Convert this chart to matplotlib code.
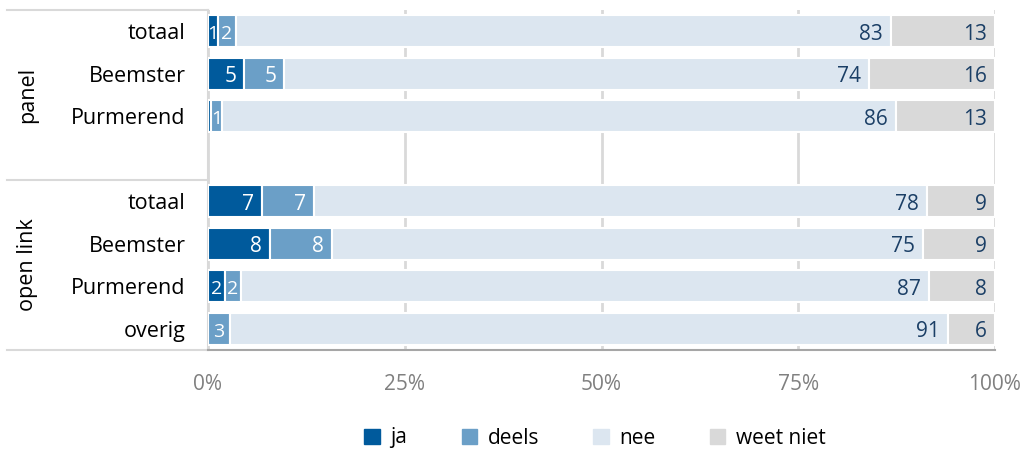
import matplotlib
matplotlib.use("Agg")
import matplotlib.pyplot as plt
from matplotlib.lines import Line2D
import numpy as np

plt.rcParams['font.family'] = ['Open Sans', 'DejaVu Sans']

# data
rows = ["totaal", "Beemster", "Purmerend", "totaal", "Beemster", "Purmerend", "overig"]
groups = ["panel", "open link"]
series = ["ja", "deels", "nee", "weet niet"]
ja = [1.3, 4.6, 0.4, 6.9, 7.9, 2.1, 0.0]
deels = [2.2, 5.1, 1.4, 6.6, 7.8, 2.1, 2.8]
nee = [83.3, 74.3, 85.6, 77.9, 75.2, 87.4, 91.2]
weet_niet = [13.2, 16.0, 12.6, 8.6, 9.1, 8.4, 6.0]
xticks = [0, 25, 50, 75, 100]

colors = ["#005A9C", "#6B9FC7", "#DCE6F0", "#D9D9D9"]
txt_colors = ["white", "white", "#1B3F66", "#1B3F66"]

W, H = 1032, 454
fig = plt.figure(figsize=(W / 100, H / 100), dpi=100)
x0, x1, ytop, ybot = 208, 995, 10, 350
ax = fig.add_axes([x0 / W, 1 - ybot / H, (x1 - x0) / W, (ybot - ytop) / H])

# positions: leave an empty slot between the groups
ypos = [0, 1, 2, 4, 5, 6, 7]
left = np.zeros(len(rows))
px_per_unit = (x1 - x0) / 100
for vals, col, tcol in zip([ja, deels, nee, weet_niet], colors, txt_colors):
    vals = np.array(vals)
    ax.barh(ypos, vals, left=left, height=0.76, color=col, edgecolor="white", linewidth=1.5, zorder=3)
    for y, l, v in zip(ypos, left, vals):
        if round(v) < 1:
            continue
        w_px = v * px_per_unit
        if w_px > 26:
            ax.annotate(str(int(round(v))), (l + v, y), xytext=(-8, -3), textcoords="offset pixels",
                        ha="right", va="center", color=tcol, fontsize=15, zorder=4)
        else:
            ax.annotate(str(int(round(v))), (l + v / 2, y), xytext=(0, -3), textcoords="offset pixels",
                        ha="center", va="center", color=tcol, fontsize=14, zorder=4)
    left = left + vals

ax.set_xlim(0, 100)
ax.set_ylim(7.5, -0.5)
ax.set_xticks(xticks)
ax.set_xticklabels([f"{t}%" for t in xticks], color="#808080", fontsize=15)
ax.set_yticks(ypos)
ax.set_yticklabels(rows, fontsize=15.5)
ax.tick_params(axis="x", length=0, pad=17)
ax.tick_params(axis="y", length=0, pad=16)
ax.grid(axis="x", color="#D9D9D9", linewidth=2, zorder=0)
for s in ["top", "right", "bottom"]:
    ax.spines[s].set_visible(False)
ax.spines["left"].set_color("#D9D9D9")
ax.spines["left"].set_linewidth(1.5)

# table lines on the left and bottom axis line
def hline(y, xa, xb, color, lw):
    fig.add_artist(Line2D([xa / W, xb / W], [1 - y / H, 1 - y / H], color=color, linewidth=lw))

hline(ytop, 7, x0, "#D9D9D9", 1.5)
hline(180, 7, x0, "#D9D9D9", 1.5)
hline(ybot, 7, x0, "#D9D9D9", 1.5)
hline(ybot, x0, x1, "#A6A6A6", 1.5)

# group labels
fig.text(28 / W, 1 - 95 / H, groups[0], rotation=90, ha="center", va="center", fontsize=15.5)
fig.text(28 / W, 1 - 265 / H, groups[1], rotation=90, ha="center", va="center", fontsize=15.5)

handles = [plt.Rectangle((0, 0), 1, 1, color=c) for c in colors]
fig.legend(handles, series, loc="center", bbox_to_anchor=(595 / W, 1 - 438 / H), ncol=4,
           frameon=False, fontsize=15, handlelength=0.75, handleheight=0.75, columnspacing=2.6,
           handletextpad=0.5)

fig.savefig("out.png", dpi=100)
